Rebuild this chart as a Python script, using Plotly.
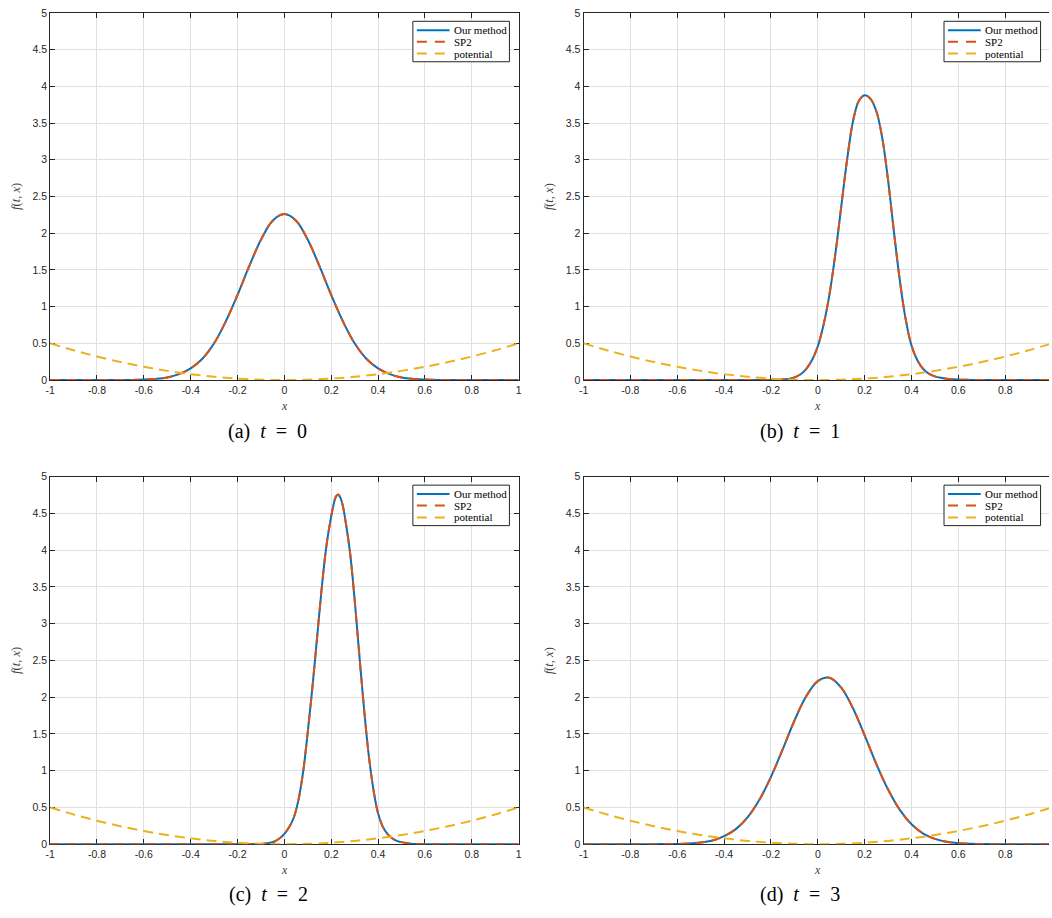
import plotly.graph_objects as go

W, H = 1052, 918

# ---------------- data ----------------
# confining potential V(x)
x_pot = [-1.0, -0.9, -0.8, -0.7, -0.6, -0.5, -0.4, -0.3, -0.2, -0.1, 0.0,
         0.1, 0.2, 0.3, 0.4, 0.5, 0.6, 0.7, 0.8, 0.9, 1.0]
v_pot = [0.5, 0.405, 0.32, 0.245, 0.18, 0.125, 0.08, 0.045, 0.02, 0.005, 0.0,
         0.005, 0.02, 0.045, 0.08, 0.125, 0.18, 0.245, 0.32, 0.405, 0.5]

# density f(t, x) at t = 0
x_t0 = [-1.0, -0.9, -0.8, -0.7, -0.65, -0.6, -0.55, -0.5, -0.45, -0.4, -0.35, -0.3,
        -0.25, -0.2, -0.15, -0.1, -0.05, 0.0, 0.05, 0.1, 0.15, 0.2, 0.25, 0.3,
        0.35, 0.4, 0.45, 0.5, 0.55, 0.6, 0.65, 0.7, 0.8, 0.9, 1.0]
f_t0 = [0.0, 0.0, 0.0, 0.001, 0.002, 0.006, 0.015, 0.035, 0.08, 0.16, 0.29, 0.5,
        0.8, 1.16, 1.55, 1.91, 2.17, 2.26, 2.17, 1.91, 1.55, 1.16, 0.8, 0.5,
        0.29, 0.16, 0.08, 0.035, 0.015, 0.006, 0.002, 0.001, 0.0, 0.0, 0.0]

# density f(t, x) at t = 1
x_t1 = [-1.0, -0.8, -0.6, -0.4, -0.3, -0.2, -0.175, -0.15, -0.125, -0.1, -0.075,
        -0.05, -0.025, 0.0, 0.025, 0.05, 0.075, 0.1, 0.125, 0.15, 0.175, 0.2,
        0.225, 0.25, 0.275, 0.3, 0.325, 0.35, 0.375, 0.4, 0.425, 0.45, 0.475,
        0.5, 0.525, 0.55, 0.6, 0.65, 0.7, 0.8, 1.0]
f_t1 = [0.0, 0.0, 0.0, 0.0, 0.0002, 0.001, 0.003, 0.006, 0.015, 0.035, 0.075,
        0.15, 0.27, 0.46, 0.76, 1.17, 1.72, 2.36, 3.0, 3.52, 3.8, 3.88,
        3.83, 3.66, 3.3, 2.72, 2.02, 1.36, 0.83, 0.47, 0.27, 0.15, 0.085,
        0.05, 0.03, 0.018, 0.006, 0.002, 0.0005, 0.0, 0.0]

# density f(t, x) at t = 2
x_t2 = [-1.0, -0.6, -0.3, -0.2, -0.15, -0.1, -0.08, -0.06, -0.04, -0.02, 0.0,
        0.02, 0.04, 0.06, 0.08, 0.1, 0.12, 0.14, 0.16, 0.18, 0.2, 0.21, 0.22,
        0.23, 0.24, 0.25, 0.26, 0.28, 0.3, 0.32, 0.34, 0.36, 0.38, 0.4, 0.42,
        0.44, 0.46, 0.48, 0.5, 0.52, 0.54, 0.56, 0.6, 0.7, 1.0]
f_t2 = [0.0, 0.0, 0.0, 0.0003, 0.001, 0.004, 0.01, 0.02, 0.04, 0.08, 0.14,
        0.23, 0.36, 0.6, 0.98, 1.53, 2.14, 2.82, 3.5, 4.07, 4.46, 4.62, 4.73,
        4.76, 4.71, 4.6, 4.42, 3.98, 3.33, 2.58, 1.85, 1.22, 0.75, 0.42, 0.24,
        0.14, 0.08, 0.045, 0.028, 0.015, 0.007, 0.003, 0.0005, 0.0, 0.0]

# density f(t, x) at t = 3
x_t3 = [-1.0, -0.8, -0.7, -0.65, -0.6, -0.55, -0.5, -0.45, -0.4, -0.35, -0.3,
        -0.25, -0.2, -0.15, -0.1, -0.05, 0.0, 0.05, 0.1, 0.15, 0.2, 0.25, 0.3,
        0.35, 0.4, 0.45, 0.5, 0.55, 0.6, 0.65, 0.7, 0.8, 1.0]
f_t3 = [0.0, 0.0, 0.0005, 0.0015, 0.003, 0.009, 0.022, 0.05, 0.11, 0.205, 0.365,
        0.6, 0.917, 1.29, 1.68, 2.01, 2.22, 2.265, 2.13, 1.85, 1.48, 1.09, 0.744,
        0.467, 0.271, 0.145, 0.072, 0.033, 0.014, 0.005, 0.002, 0.0, 0.0]

x_ticks = [-1, -0.8, -0.6, -0.4, -0.2, 0, 0.2, 0.4, 0.6, 0.8, 1]
x_tick_text = ["-1", "-0.8", "-0.6", "-0.4", "-0.2", "0", "0.2", "0.4", "0.6", "0.8", "1"]
y_ticks = [0, 0.5, 1, 1.5, 2, 2.5, 3, 3.5, 4, 4.5, 5]
y_tick_text = ["0", "0.5", "1", "1.5", "2", "2.5", "3", "3.5", "4", "4.5", "5"]

series_names = ["Our method", "SP2", "potential"]
captions = ["(a)", "(b)", "(c)", "(d)"]
times = ["0", "1", "2", "3"]

# ---------------- styling ----------------
BLUE, ORANGE, YELLOW = "#0072BD", "#D95319", "#EDB120"
AXIS = "#262626"
GRID = "#e0e0e0"
DASH = "10px,6px"
SANS = "Liberation Sans, Arial, sans-serif"
SERIF = "Liberation Serif, Times New Roman, serif"


def px(x):
    return x / W


def py(y):
    return 1 - y / H


# panel boxes in pixels: (left, right, top, bottom, x-range max, mirror right axis)
panels = [
    (45.5, 517.5, 7.0, 379.0, 1.0, True),
    (583.0, 1052.0, 7.0, 379.0, 0.987, False),
    (45.5, 517.5, 477.0, 849.3, 1.0, True),
    (583.0, 1052.0, 477.0, 849.3, 0.987, False),
]
caption_pos = [(265, 431), (801, 431.5), (265.5, 900.5), (801, 900.5)]
curves = [(x_t0, f_t0), (x_t1, f_t1), (x_t2, f_t2), (x_t3, f_t3)]

fig = go.Figure()
layout = dict(
    width=W, height=H,
    margin=dict(l=0, r=0, t=0, b=0),
    paper_bgcolor="white", plot_bgcolor="white",
    showlegend=False,
)
shapes = []
annotations = []

for i, ((xl, xr, yt, yb, xmax, mirror_y), (xs, fs)) in enumerate(zip(panels, curves)):
    k = "" if i == 0 else str(i + 1)
    xa, ya = "x" + k, "y" + k

    fig.add_trace(go.Scatter(x=xs, y=fs, mode="lines", name=series_names[0],
                             line=dict(color=BLUE, width=2, shape="spline", smoothing=1),
                             xaxis=xa, yaxis=ya, hoverinfo="skip"))
    fig.add_trace(go.Scatter(x=xs, y=fs, mode="lines", name=series_names[1],
                             line=dict(color=ORANGE, width=2, dash=DASH, shape="spline", smoothing=1),
                             xaxis=xa, yaxis=ya, hoverinfo="skip"))
    fig.add_trace(go.Scatter(x=x_pot, y=v_pot, mode="lines", name=series_names[2],
                             line=dict(color=YELLOW, width=2, dash=DASH, shape="spline", smoothing=1),
                             xaxis=xa, yaxis=ya, hoverinfo="skip"))

    common = dict(showline=True, linecolor=AXIS, linewidth=1,
                  ticks="inside", ticklen=5, tickwidth=1, tickcolor=AXIS,
                  showgrid=True, gridcolor=GRID, gridwidth=1, zeroline=False,
                  tickfont=dict(family=SANS, size=10.5, color=AXIS),
                  layer="below traces", fixedrange=True)
    layout["xaxis" + k] = dict(common, domain=[px(xl), px(xr)], range=[-1, xmax],
                               tickmode="array", tickvals=x_ticks, ticktext=x_tick_text,
                               mirror="ticks", anchor=ya)
    layout["yaxis" + k] = dict(common, domain=[py(yb), py(yt)], range=[0, 5],
                               tickmode="array", tickvals=y_ticks, ticktext=y_tick_text,
                               mirror="ticks" if mirror_y else False, anchor=xa)

    # axis titles
    annotations.append(dict(xref="paper", yref="paper", x=px(xl - 34), y=py((yt + yb) / 2),
                            text="<i>f</i>(<i>t</i>, <i>x</i>)", textangle=-90, showarrow=False,
                            font=dict(family=SERIF, size=12.5, color="#404040"),
                            xanchor="center", yanchor="middle"))
    x0_px = xl + (0 - (-1)) * 236.0
    annotations.append(dict(xref="paper", yref="paper", x=px(x0_px), y=py(yb + 26),
                            text="<i>x</i>", showarrow=False,
                            font=dict(family=SERIF, size=12, color="#404040"),
                            xanchor="center", yanchor="middle"))

    # sub-caption
    cx, cy = caption_pos[i]
    annotations.append(dict(xref="paper", yref="paper", x=px(cx), y=py(cy),
                            text=captions[i] + "&nbsp;&nbsp;<i>t</i>&nbsp;&nbsp;=&nbsp;&nbsp;" + times[i],
                            showarrow=False, font=dict(family=SERIF, size=20, color="black"),
                            xanchor="center", yanchor="middle"))

    # legend box
    bw, bh = 97.3, 41.0
    bl = xr - (8.5 if not mirror_y else 9.2) - bw
    bt = yt + 8.5
    shapes.append(dict(type="rect", xref="paper", yref="paper",
                       x0=px(bl), x1=px(bl + bw), y0=py(bt + bh), y1=py(bt),
                       line=dict(color=AXIS, width=1), fillcolor="white", layer="above"))
    rows = [9.0, 20.7, 32.7]
    styles = [(BLUE, "solid"), (ORANGE, "10px,8px"), (YELLOW, "10px,8px")]
    for (col, dsh), ry, name in zip(styles, rows, series_names):
        shapes.append(dict(type="line", xref="paper", yref="paper",
                           x0=px(bl + 4), x1=px(bl + 37), y0=py(bt + ry), y1=py(bt + ry),
                           line=dict(color=col, width=2, dash=dsh), layer="above"))
        annotations.append(dict(xref="paper", yref="paper", x=px(bl + 39.5), y=py(bt + ry),
                                text=name, showarrow=False,
                                font=dict(family=SERIF, size=11, color="black"),
                                xanchor="left", yanchor="middle"))

layout["shapes"] = shapes
layout["annotations"] = annotations
fig.update_layout(**layout)

fig.write_html("out.html", config={"displayModeBar": False})
